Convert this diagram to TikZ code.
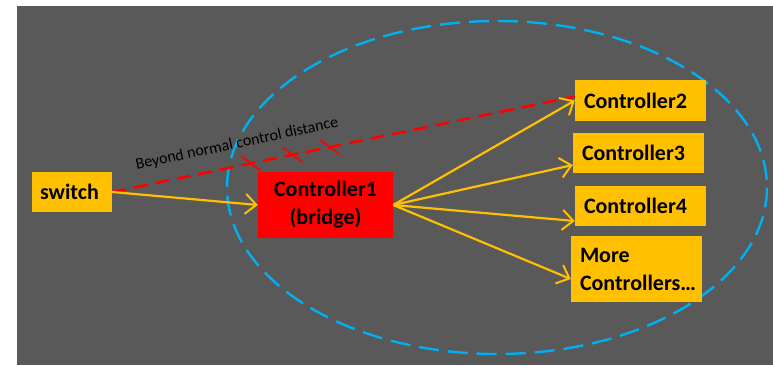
\documentclass[tikz,border=0pt]{standalone}
\usepackage{fontspec}
\setmainfont{Carlito}
\usepackage{tikz}
\usetikzlibrary{arrows.meta, calc}

\definecolor{bggray}{HTML}{595959}
\definecolor{ctrlyellow}{HTML}{FFC000}
\definecolor{ringblue}{HTML}{00B0F0}

\tikzset{
  ctrl/.style={fill=ctrlyellow, text=black, font=\fontsize{22}{28}\selectfont\bfseries,
    minimum width=131pt, minimum height=41pt, text width=113pt, inner xsep=9pt, align=left},
  feed/.style={ctrlyellow, line width=2.2pt, -{Straight Barb[length=11pt,width=20pt,line width=2pt]}},
  far/.style={red, line width=2.6pt, dash pattern=on 14pt off 8pt},
}

\begin{document}
\begin{tikzpicture}[x=1pt, y=-1pt]
\useasboundingbox (0,0) rectangle (773,365);
\fill[bggray] (17,6) rectangle (773,365);

% reach of the bridge
\draw[ringblue, line width=2.4pt, dash pattern=on 20pt off 9pt] (497,187.5) ellipse [x radius=270, y radius=166.5];

\node[ctrl, minimum width=80pt, text width=64pt, inner xsep=8pt, minimum height=40pt] (sw) at (72,192) {switch};
\node[ctrl, fill=red, minimum width=135pt, minimum height=66pt, text width=117pt, align=center] (c1) at (325.5,205) {Controller1\\(bridge)};
\node[ctrl] (c2) at (640.5,100.5) {Controller2};
\node[ctrl, minimum height=40pt] (c3) at (638.5,153) {Controller3};
\node[ctrl, minimum height=40pt] (c4) at (640.5,206) {Controller4};
\node[ctrl, minimum height=66pt] (cm) at (636.5,269) {More\\Controllers\ldots};

% direct link is too long
\coordinate (c2in) at ([yshift=4pt]c2.west);
\draw[far] (sw.east) -- (c2in);
\foreach \p in {0.30,0.39,0.47}
  \draw[red, line width=1.6pt] ($(sw.east)!\p!(c2in)$) ++(-10,-7.5) -- ++(20,15);
\node[rotate=12, font=\fontsize{16}{19}\selectfont, text=black] (far label) at (237,144) {Beyond normal control distance};

\draw[feed] (sw.east) -- (c1.west);
\foreach \t/\s in {c2/0, c3/-12, c4/-15, cm/-10}
  \draw[feed] (c1.east) -- ([yshift=\s pt]\t.west);
\end{tikzpicture}
\end{document}
